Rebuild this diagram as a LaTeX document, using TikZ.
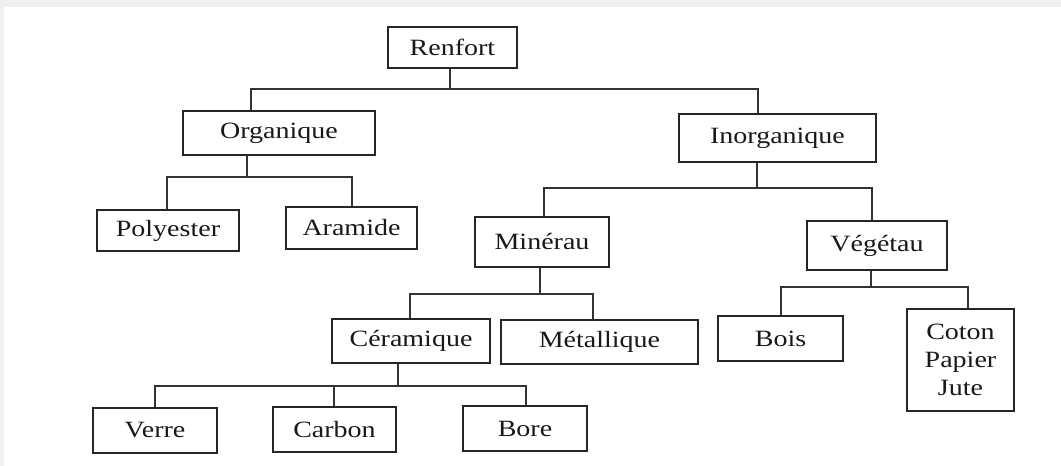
\documentclass[tikz,border=0pt]{standalone}
\usepackage{fontspec}
\setmainfont{Liberation Serif}[FakeStretch=1.2]
\newcommand\mybox[6]{\node[box, minimum width={(#4-#2)*0.75pt}, minimum height={(#5-#3)*0.75pt}] (#1) at ({(#2+#4)/2},{(#3+#5)/2}) {#6};}
\begin{document}
\begin{tikzpicture}[x=0.75pt,y=-0.75pt,
  box/.style={draw=black!85, line width=1.4pt, fill=white, inner sep=0pt, align=center,
    font=\fontsize{17.5}{21}\selectfont, text=black!90},
  conn/.style={draw=black!80, line width=1.4pt}]
\useasboundingbox (0,0) rectangle (1061,466);
\fill[black!6] (0,0) rectangle (1061,466);
\fill[white] (4,7) rectangle (1061,466);
% nodes
\mybox{ren}{388}{27}{517}{68}{Renfort}
\mybox{org}{183}{111}{375}{155}{Organique}
\mybox{ino}{679}{114}{876}{162}{Inorganique}
\mybox{pol}{97}{210}{239}{251}{Polyester}
\mybox{ara}{286}{207}{417}{249}{Aramide}
\mybox{min}{475}{217}{609}{267}{Minérau}
\mybox{veg}{807}{221}{947}{270}{Végétau}
\mybox{cer}{332}{319}{490}{363}{Céramique}
\mybox{met}{501}{320}{698}{364}{Métallique}
\mybox{boi}{718}{316}{843}{361}{Bois}
\mybox{cot}{907}{309}{1014}{411}{Coton\\Papier\\Jute}
\mybox{ver}{93}{408}{217}{453}{Verre}
\mybox{car}{273}{407}{396}{452}{Carbon}
\mybox{bor}{463}{406}{587}{451}{Bore}
% bus coordinates
\coordinate (r0) at (450,89);
\coordinate (rl) at (251,89);
\coordinate (rr) at (758,89);
\coordinate (o0) at (247,177);
\coordinate (ol) at (167,177);
\coordinate (or) at (352,177);
\coordinate (i0) at (757,188);
\coordinate (il) at (544,188);
\coordinate (ir) at (872,188);
\coordinate (m0) at (540,294);
\coordinate (ml) at (410,294);
\coordinate (mr) at (593,294);
\coordinate (v0) at (871,287);
\coordinate (vl) at (781,287);
\coordinate (vr) at (968,287);
\coordinate (c0) at (398,386);
\coordinate (cl) at (155,386);
\coordinate (cm) at (334,386);
\coordinate (cr) at (526,386);
% connectors
\draw[conn] (ren.south -| r0) -- (r0);
\draw[conn] (org.north -| rl) -- (rl) -- (rr) -- (ino.north -| rr);
\draw[conn] (org.south -| o0) -- (o0);
\draw[conn] (pol.north -| ol) -- (ol) -- (or) -- (ara.north -| or);
\draw[conn] (ino.south -| i0) -- (i0);
\draw[conn] (min.north -| il) -- (il) -- (ir) -- (veg.north -| ir);
\draw[conn] (min.south -| m0) -- (m0);
\draw[conn] (cer.north -| ml) -- (ml) -- (mr) -- (met.north -| mr);
\draw[conn] (veg.south -| v0) -- (v0);
\draw[conn] (boi.north -| vl) -- (vl) -- (vr) -- (cot.north -| vr);
\draw[conn] (cer.south -| c0) -- (c0);
\draw[conn] (ver.north -| cl) -- (cl) -- (cr) -- (bor.north -| cr);
\draw[conn] (cm) -- (car.north -| cm);
\end{tikzpicture}
\end{document}
